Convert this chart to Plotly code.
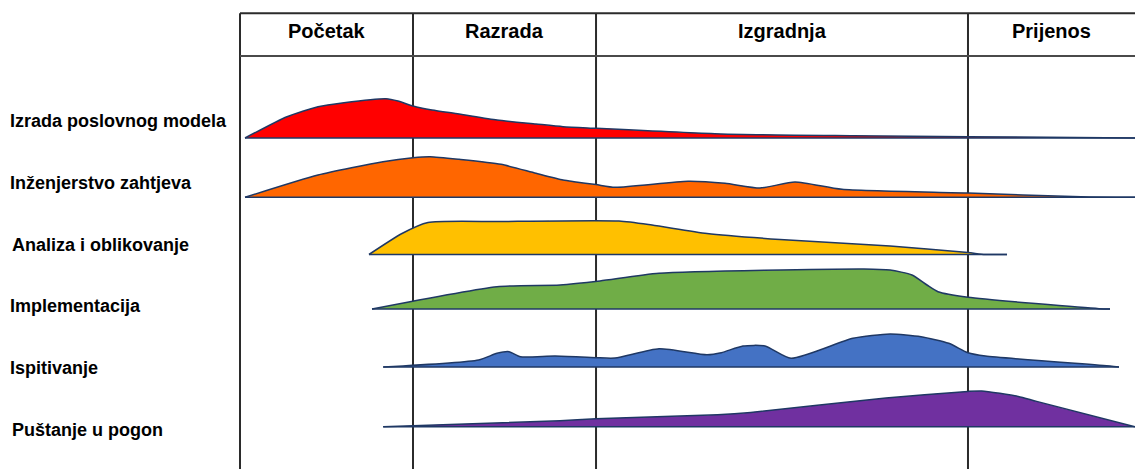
import plotly.graph_objects as go

# ---------------- data (time axis: 0..100 % of project, effort in relative units) -------------
phases = ["Početak", "Razrada", "Izgradnja", "Prijenos"]
phase_edges = [0, 19.33, 39.78, 81.34, 100]

disciplines = [
    "Izrada poslovnog modela",
    "Inženjerstvo zahtjeva",
    "Analiza i oblikovanje",
    "Implementacija",
    "Ispitivanje",
    "Puštanje u pogon",
]

business_t = [0.56, 5.25, 8.72, 11.62, 16.31, 17.65, 19.33, 21.45, 24.47, 28.72, 33.07, 36.09, 39.78, 53.74, 68.49, 81.34, 100]
business_e = [0, 21.3, 31.3, 35.3, 39.3, 37, 32, 28, 24, 18, 14, 11.3, 9.7, 4, 2.3, 1.3, 0]

requirements_t = [0.56, 8.72, 15.98, 19.33, 21.23, 24.47, 29.16, 33.07, 36.09, 37.32, 39.78, 41.90, 50.06, 54.19, 58.10, 62.01, 67.26, 81.34, 93.97, 100]
requirements_e = [0, 22.3, 35.6, 39.6, 40.6, 38, 33, 24, 17.3, 15.6, 12.7, 10, 16, 14, 9.3, 15.3, 8, 4.3, 0.5, 0]

analysis_t = [14.41, 18.10, 21.01, 29.05, 42.35, 46.03, 52.18, 60.34, 72.63, 81.34, 83.24, 85.70]
analysis_e = [0, 21, 32, 33, 33.5, 29.5, 21, 15, 8.5, 2, 0, 0]

implementation_t = [14.75, 28.72, 35.75, 40.22, 46.82, 69.72, 72.63, 75.08, 76.76, 77.99, 81.34, 95.98, 97.21]
implementation_e = [0, 22.3, 24, 28, 35.7, 40, 39, 34, 24, 17.3, 11.7, 0.3, 0]

test_t = [16.0, 26.66, 28.72, 30.06, 31.34, 35.2, 39.78, 41.90, 46.82, 52.18, 53.78, 56.20, 58.66, 61.57, 68.49, 72.63, 76.09, 79.19, 81.34, 83.29, 97.21, 98.21]
test_e = [0, 7, 13.7, 15.3, 10.3, 11, 9.3, 9, 18.3, 12.3, 14.3, 21, 21, 8.7, 28.7, 33, 30.3, 23.7, 14.3, 11, 1, 0]

deployment_t = [16.0, 35.75, 39.78, 53.37, 57.06, 72.18, 81.34, 82.87, 86.96, 89.01, 100]
deployment_e = [0, 6, 8, 12, 14.3, 28.7, 35.3, 35.7, 30.3, 25.3, 0]

series_t = [business_t, requirements_t, analysis_t, implementation_t, test_t, deployment_t]
series_e = [business_e, requirements_e, analysis_e, implementation_e, test_e, deployment_e]

# ---------------- layout / style -----------------------------------------------------------
row_base = [331, 271.7, 214.5, 160, 102, 42.3]          # baseline of each discipline row
label_y = [347.8, 285.7, 224.5, 162.8, 101.2, 39.5]     # label vertical centres
label_x = [-0.2564, -0.2564, -0.2542, -0.2564, -0.2564, -0.2542]
fills = ["#FF0000", "#FF6600", "#FFC000", "#70AD47", "#4472C4", "#7030A0"]
outline = "#1F3864"
grid = "#2B2B2B"
top_y = 455.7
header_y = 413
header_text_y = 438.5

fig = go.Figure()
for t, e, base, col in zip(series_t, series_e, row_base, fills):
    fig.add_trace(go.Scatter(x=[t[0], t[-1]], y=[base, base], mode="lines",
                             line=dict(width=0, color=outline), hoverinfo="skip", showlegend=False))
    fig.add_trace(go.Scatter(x=t, y=[base + v for v in e], mode="lines", fill="tonexty",
                             fillcolor=col, line=dict(color=outline, width=1.5, shape="spline", smoothing=0.6),
                             hoverinfo="skip", showlegend=False))
    fig.add_trace(go.Scatter(x=[t[0], t[-1]], y=[base, base], mode="lines",
                             line=dict(width=1.6, color=outline), hoverinfo="skip", showlegend=False))

shapes = []
for xe in phase_edges[:-1]:
    shapes.append(dict(type="line", xref="x", yref="y", x0=xe, x1=xe, y0=0, y1=top_y,
                       line=dict(color=grid, width=2), layer="below"))
shapes.append(dict(type="line", xref="x", yref="y", x0=0, x1=100, y0=top_y, y1=top_y,
                   line=dict(color=grid, width=2), layer="below"))
shapes.append(dict(type="line", xref="x", yref="y", x0=0, x1=100, y0=header_y, y1=header_y,
                   line=dict(color="#4A4A4A", width=2), layer="below"))

annotations = []
for i, name in enumerate(phases):
    cx = (phase_edges[i] + phase_edges[i + 1]) / 2
    annotations.append(dict(x=cx, y=header_text_y, xref="x", yref="y", text="<b>%s</b>" % name,
                            showarrow=False, xanchor="center", yanchor="middle",
                            font=dict(family="Liberation Sans, Arial", size=20, color="#000000")))
for name, ly, lx in zip(disciplines, label_y, label_x):
    annotations.append(dict(x=lx, y=ly, xref="paper", yref="y", text="<b>%s</b>" % name,
                            showarrow=False, xanchor="left", yanchor="middle",
                            font=dict(family="Liberation Sans, Arial", size=18, color="#000000")))

fig.update_layout(
    width=1135, height=469,
    margin=dict(l=238, r=0, t=11, b=0, pad=0),
    paper_bgcolor="white", plot_bgcolor="white",
    xaxis=dict(range=[-0.2235, 100], visible=False, fixedrange=True),
    yaxis=dict(range=[0, 458], visible=False, fixedrange=True),
    shapes=shapes, annotations=annotations,
    showlegend=False,
)

fig.write_html("out.html", config={"displayModeBar": False})
